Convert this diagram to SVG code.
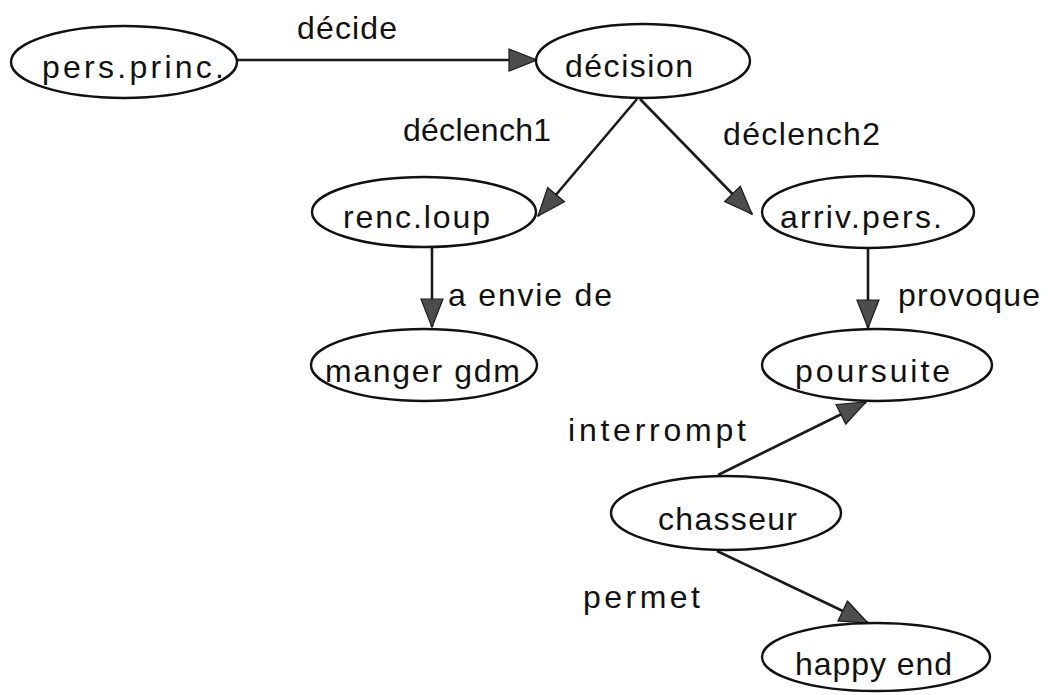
<svg xmlns="http://www.w3.org/2000/svg" width="1050" height="695" viewBox="0 0 1050 695">
  <style>
    .node ellipse { fill: #ffffff; stroke: #111111; stroke-width: 2.4; }
    .node text, .label { font-family: "Liberation Sans", Arial, Helvetica, sans-serif; font-size: 32px; fill: #111111; }
    .edge { fill: none; stroke: #1a1a1a; stroke-width: 2.6; marker-end: url(#arrow); }
  </style>
  <defs>
    <marker id="arrow" markerUnits="userSpaceOnUse" markerWidth="32" markerHeight="26" refX="29" refY="12" orient="auto">
      <path d="M1,1 L29,12 L1,23 Z" fill="#4d4d4d" stroke="#1a1a1a" stroke-width="1.2"/>
    </marker>
  </defs>
  <rect width="1050" height="695" fill="#ffffff"/>

  <!-- connectors -->
  <g id="connectors">
    <path class="edge" d="M237,60 L537,60"/>
    <path class="edge" d="M637,99 L538,216"/>
    <path class="edge" d="M640,99 L752,214"/>
    <path class="edge" d="M432,248 L432,327"/>
    <path class="edge" d="M868,248 L868,328"/>
    <path class="edge" d="M718,475 L866,402"/>
    <path class="edge" d="M717,551 L868,623"/>
  </g>

  <!-- edge labels -->
  <g id="edge-labels">
    <text class="label" x="297" y="39" textLength="100" lengthAdjust="spacing">décide</text>
    <text class="label" x="403" y="141" textLength="148" lengthAdjust="spacing">déclench1</text>
    <text class="label" x="723" y="145" textLength="157" lengthAdjust="spacing">déclench2</text>
    <text class="label" x="448" y="306" textLength="164" lengthAdjust="spacing">a envie de</text>
    <text class="label" x="898" y="306" textLength="142" lengthAdjust="spacing">provoque</text>
    <text class="label" x="568" y="441" textLength="178" lengthAdjust="spacing">interrompt</text>
    <text class="label" x="583" y="608" textLength="117" lengthAdjust="spacing">permet</text>
  </g>

  <!-- nodes -->
  <g id="pers-princ" class="node">
    <ellipse cx="124" cy="62" rx="113" ry="36"/>
    <text x="42" y="78" textLength="182" lengthAdjust="spacing">pers.princ.</text>
  </g>
  <g id="decision" class="node">
    <ellipse cx="643" cy="61" rx="107" ry="37"/>
    <text x="565" y="77" textLength="128" lengthAdjust="spacing">décision</text>
  </g>
  <g id="renc-loup" class="node">
    <ellipse cx="424" cy="212" rx="112" ry="35"/>
    <text x="343" y="228" textLength="147" lengthAdjust="spacing">renc.loup</text>
  </g>
  <g id="arriv-pers" class="node">
    <ellipse cx="868" cy="212" rx="106" ry="36"/>
    <text x="780" y="228" textLength="162" lengthAdjust="spacing">arriv.pers.</text>
  </g>
  <g id="manger-gdm" class="node">
    <ellipse cx="424" cy="365" rx="113" ry="36"/>
    <text x="325" y="382" textLength="195" lengthAdjust="spacing">manger gdm</text>
  </g>
  <g id="poursuite" class="node">
    <ellipse cx="877" cy="365" rx="115" ry="36"/>
    <text x="795" y="382" textLength="155" lengthAdjust="spacing">poursuite</text>
  </g>
  <g id="chasseur" class="node">
    <ellipse cx="726" cy="513" rx="115" ry="37"/>
    <text x="658" y="530" textLength="139" lengthAdjust="spacing">chasseur</text>
  </g>
  <g id="happy-end" class="node">
    <ellipse cx="876" cy="657" rx="114" ry="34"/>
    <text x="795" y="675" textLength="157" lengthAdjust="spacing">happy end</text>
  </g>
</svg>
